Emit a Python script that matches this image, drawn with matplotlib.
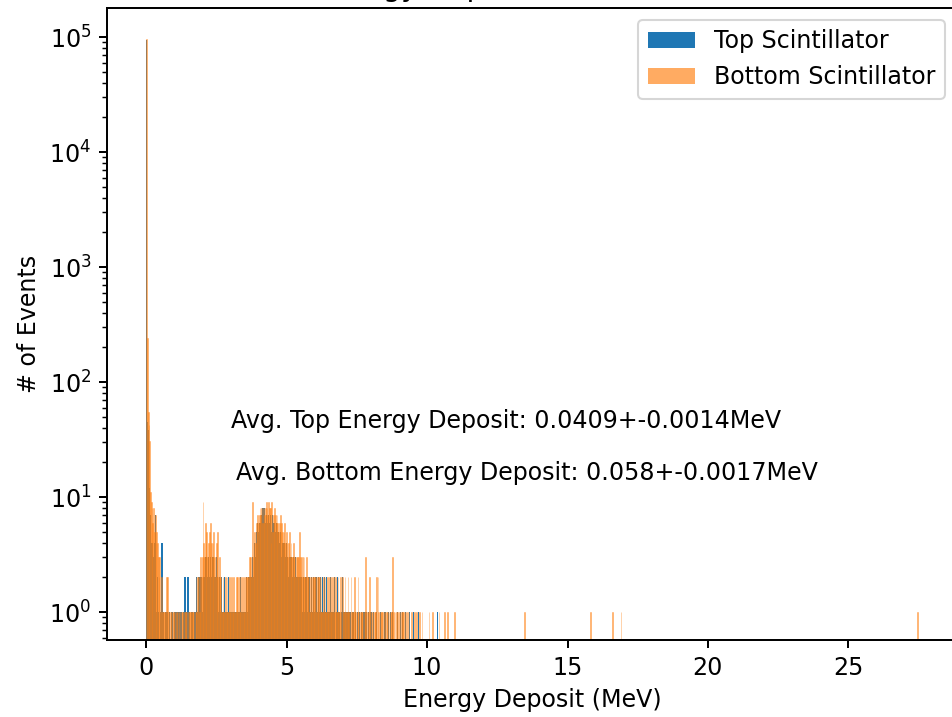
import numpy as np
import matplotlib
matplotlib.use("Agg")
import matplotlib.pyplot as plt

# ---------------- data ----------------
E_MIN, E_MAX, N_BINS = 0.0, 27.47, 1000

# per-bin counts for the first 400 bins (0 - ~11 MeV), 20 bins per row
bottom_counts = [
    96000, 240, 55, 42, 31, 11, 9, 8, 6, 8, 5, 7, 4, 5, 4, 3, 2, 3, 1, 2,
    1, 0, 1, 1, 1, 0, 2, 2, 1, 1, 0, 1, 1, 0, 1, 1, 1, 0, 1, 1,
    1, 0, 1, 1, 0, 1, 1, 1, 0, 1, 1, 1, 1, 0, 1, 1, 0, 1, 1, 1,
    1, 1, 0, 1, 2, 1, 2, 2, 1, 2, 3, 2, 3, 9, 4, 3, 6, 4, 5, 3,
    4, 5, 3, 6, 4, 3, 4, 5, 3, 2, 4, 3, 5, 2, 3, 2, 2, 1, 1, 2,
    1, 1, 2, 1, 2, 1, 1, 2, 1, 1, 2, 1, 1, 2, 1, 1, 2, 1, 2, 1,
    2, 1, 1, 2, 1, 2, 1, 1, 2, 2, 1, 2, 2, 3, 2, 3, 2, 9, 3, 4,
    5, 4, 6, 5, 7, 6, 7, 8, 7, 8, 6, 8, 6, 7, 8, 9, 8, 7, 9, 8,
    8, 4, 9, 5, 7, 6, 8, 7, 6, 7, 6, 5, 6, 7, 5, 6, 5, 4, 5, 6,
    4, 5, 4, 3, 4, 5, 3, 4, 3, 3, 4, 3, 3, 2, 3, 3, 2, 3, 5, 3,
    3, 2, 3, 2, 3, 2, 2, 3, 2, 2, 2, 1, 2, 2, 1, 2, 2, 1, 2, 2,
    1, 2, 1, 2, 2, 1, 2, 1, 1, 2, 1, 2, 1, 1, 2, 1, 1, 2, 1, 1,
    2, 1, 2, 1, 1, 2, 1, 1, 2, 1, 1, 2, 1, 0, 2, 1, 1, 2, 1, 1,
    1, 2, 1, 1, 0, 2, 1, 1, 1, 2, 1, 1, 0, 1, 2, 1, 0, 1, 1, 1,
    1, 0, 1, 1, 3, 1, 0, 1, 1, 2, 1, 0, 1, 1, 0, 1, 1, 1, 2, 0,
    2, 1, 0, 1, 1, 0, 1, 0, 1, 1, 0, 1, 1, 0, 1, 0, 1, 1, 0, 3,
    1, 0, 1, 0, 1, 1, 0, 0, 1, 0, 1, 0, 1, 1, 0, 0, 1, 0, 1, 0,
    1, 0, 0, 1, 0, 0, 0, 1, 0, 0, 1, 0, 0, 0, 1, 0, 0, 1, 0, 0,
    0, 0, 0, 0, 0, 0, 1, 0, 0, 0, 0, 1, 0, 0, 0, 0, 0, 0, 0, 1,
    0, 0, 0, 0, 0, 0, 1, 0, 0, 0, 1, 0, 0, 0, 0, 0, 0, 0, 0, 1,
]

top_counts = [
    95000, 45, 38, 20, 12, 7, 4, 4, 4, 3, 4, 7, 2, 1, 2, 1, 1, 0, 1, 4,
    4, 1, 1, 0, 1, 1, 1, 1, 0, 1, 1, 0, 1, 1, 1, 0, 1, 1, 0, 1,
    1, 1, 0, 1, 1, 1, 0, 1, 1, 2, 2, 2, 1, 2, 2, 1, 1, 0, 1, 1,
    1, 0, 1, 1, 1, 2, 1, 2, 2, 1, 2, 2, 1, 3, 2, 2, 3, 2, 3, 2,
    3, 2, 4, 3, 2, 3, 2, 3, 2, 2, 3, 2, 2, 1, 2, 1, 1, 2, 1, 1,
    1, 2, 1, 1, 1, 1, 2, 1, 3, 1, 1, 1, 2, 1, 1, 1, 1, 2, 1, 1,
    1, 1, 2, 1, 1, 1, 2, 1, 1, 2, 1, 1, 2, 2, 1, 2, 2, 3, 2, 3,
    4, 3, 5, 4, 6, 5, 6, 7, 6, 7, 8, 8, 9, 8, 6, 7, 8, 6, 7, 6,
    7, 6, 5, 7, 6, 5, 6, 5, 6, 4, 5, 5, 4, 5, 4, 3, 4, 4, 3, 4,
    3, 4, 3, 3, 2, 3, 3, 2, 3, 2, 3, 2, 2, 3, 2, 2, 3, 2, 2, 2,
    2, 2, 1, 2, 2, 1, 2, 2, 1, 2, 2, 2, 1, 2, 2, 1, 2, 4, 1, 2,
    2, 1, 3, 2, 1, 2, 2, 1, 2, 1, 2, 1, 1, 2, 1, 2, 1, 1, 2, 1,
    1, 1, 1, 2, 1, 0, 1, 2, 1, 1, 1, 0, 1, 1, 2, 1, 1, 0, 1, 1,
    1, 0, 1, 1, 1, 2, 0, 1, 1, 0, 1, 1, 0, 1, 1, 0, 1, 0, 1, 1,
    0, 1, 1, 0, 1, 1, 0, 1, 1, 0, 1, 1, 0, 0, 1, 0, 1, 0, 1, 0,
    1, 0, 0, 1, 0, 1, 0, 0, 1, 0, 1, 0, 0, 1, 0, 0, 1, 0, 0, 1,
    0, 0, 1, 0, 0, 1, 0, 0, 0, 1, 0, 0, 1, 0, 0, 0, 1, 0, 0, 0,
    0, 1, 0, 0, 0, 0, 1, 0, 0, 0, 0, 0, 1, 0, 0, 0, 0, 0, 0, 0,
    0, 0, 0, 0, 0, 0, 0, 0, 0, 0, 0, 0, 0, 0, 0, 0, 0, 1, 0, 0,
    0, 0, 0, 0, 0, 0, 0, 0, 0, 0, 0, 0, 0, 0, 0, 0, 0, 0, 0, 0,
]

# isolated high-energy events (MeV, counts)
bottom_tail_E = [13.47, 15.80, 16.60, 16.90, 27.46]
bottom_tail_N = [1, 1, 1, 1, 1]
top_tail_E = [17.30]
top_tail_N = [1]

labels = ["Top Scintillator", "Bottom Scintillator"]
avg_texts = ["Avg. Top Energy Deposit: 0.0409+-0.0014MeV",
             "Avg. Bottom Energy Deposit: 0.058+-0.0017MeV"]
title = "Energy Deposit in Scintillators"

# ---------------- plot ----------------
plt.rcParams["font.size"] = 11.4
plt.rcParams["axes.linewidth"] = 0.95
plt.rcParams["xtick.major.size"] = 4.0
plt.rcParams["ytick.major.size"] = 4.0
plt.rcParams["xtick.major.width"] = 0.95
plt.rcParams["ytick.major.width"] = 0.95
plt.rcParams["ytick.minor.size"] = 2.3
plt.rcParams["ytick.minor.width"] = 0.7

edges = np.linspace(E_MIN, E_MAX, N_BINS + 1)
w = edges[1] - edges[0]

def build(counts, tail_E, tail_N):
    centers = edges[:len(counts)] + w / 2
    vals = np.concatenate([centers, np.array(tail_E)])
    wts = np.concatenate([np.array(counts, float), np.array(tail_N, float)])
    return vals, wts

tv, tw = build(top_counts, top_tail_E, top_tail_N)
bv, bw = build(bottom_counts, bottom_tail_E, bottom_tail_N)

fig = plt.figure(figsize=(952 / 150, 717 / 150), dpi=150)
ax = fig.add_axes([107 / 952, 77 / 717, 850 / 952, 632 / 717])

ax.hist(tv, bins=edges, weights=tw, log=True, color="C0", label=labels[0])
ax.hist(bv, bins=edges, weights=bw, log=True, color="C1",
        alpha=0.65, label=labels[1], edgecolor="C1", linewidth=0.25)

ax.set_xlim(-1.40, 28.87)
ax.set_ylim(0.571, 1.79e5)
ax.set_xlabel("Energy Deposit (MeV)")
ax.set_ylabel("# of Events")
ax.set_title(title)
ax.text(3.03, 40, avg_texts[0])
ax.text(3.2, 14, avg_texts[1])
leg = ax.legend(loc="upper right")
for h in leg.legend_handles:
    h.set_linewidth(0)

fig.savefig("out.png", dpi=150)
